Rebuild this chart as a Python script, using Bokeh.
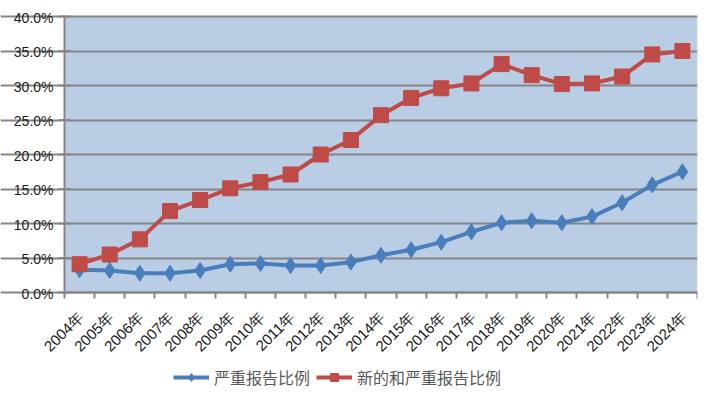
import math
from bokeh.plotting import figure
from bokeh.models import (Range1d, FixedTicker, Legend, LegendItem, BoxAnnotation)
from bokeh.core.properties import value
from bokeh.embed import file_html
from bokeh.resources import INLINE

years = ["2004年", "2005年", "2006年", "2007年", "2008年", "2009年", "2010年", "2011年",
         "2012年", "2013年", "2014年", "2015年", "2016年", "2017年", "2018年", "2019年",
         "2020年", "2021年", "2022年", "2023年", "2024年"]
severe = [3.3, 3.2, 2.8, 2.8, 3.2, 4.1, 4.2, 3.9, 3.9, 4.4, 5.4, 6.2, 7.3, 8.8,
          10.1, 10.4, 10.1, 11.0, 13.0, 15.6, 17.5]
new_and_severe = [4.1, 5.5, 7.7, 11.8, 13.4, 15.1, 16.0, 17.1, 20.0, 22.1, 25.7, 28.2,
                  29.6, 30.3, 33.1, 31.5, 30.2, 30.3, 31.3, 34.5, 35.0]
y_ticks = [0, 5, 10, 15, 20, 25, 30, 35, 40]
y_tick_labels = ["0.0%", "5.0%", "10.0%", "15.0%", "20.0%", "25.0%", "30.0%", "35.0%", "40.0%"]
names = ["严重报告比例", "新的和严重报告比例"]

n = len(years)
xs = [i + 0.5 for i in range(n)]
s1 = [v / 100 for v in severe]
s2 = [v / 100 for v in new_and_severe]
yt = [t / 100 for t in y_ticks]
y_max = yt[-1]

BLUE = "#4A7EBB"
RED = "#BE4B48"
GRID = "#868686"
PLOT_BG = "#B9CDE5"
TXT = "#1a1a1a"

# layout (pixels): frame covers the canvas (minus a right margin); plot area starts
# 64px in and 16px down, value axis is 276px tall with 105px of room below it
FRAME_W, FRAME_H = 697, 397
AREA_LEFT, AREA_TOP, AREA_H = 64, 16, 276
x_min = -n * AREA_LEFT / (FRAME_W - AREA_LEFT)
y_min = -y_max * (FRAME_H - AREA_H - AREA_TOP) / AREA_H
y_top = y_max + y_max * AREA_TOP / AREA_H

p = figure(frame_width=FRAME_W, frame_height=FRAME_H, output_backend="svg",
           toolbar_location=None, y_axis_location=None,
           x_range=Range1d(x_min, n), y_range=Range1d(y_min, y_top))
p.min_border = 0
p.min_border_left = 0
p.min_border_right = 14
p.min_border_top = 0
p.min_border_bottom = 0
p.background_fill_color = "white"
p.border_fill_color = "white"
p.outline_line_color = None

# plot area background
p.add_layout(BoxAnnotation(left=0, right=n, bottom=0, top=y_max, fill_color=PLOT_BG,
                           fill_alpha=1, line_color=None, level="image"))

# horizontal gridlines
p.ygrid.grid_line_color = GRID
p.ygrid.grid_line_width = 2
p.ygrid.ticker = FixedTicker(ticks=yt)
p.ygrid.bounds = (0, n)
p.xgrid.visible = False

# value axis line, tick marks and labels
p.segment(x0=[0], y0=[yt[0]], x1=[0], y1=[yt[-1]], line_color=GRID, line_width=2)
p.scatter(x=[0] * len(yt), y=yt, marker="dash", size=12, line_color=GRID, line_width=2)
p.text(x=[0] * len(yt), y=yt, text=y_tick_labels, text_align="right",
       text_baseline="middle", x_offset=-11, y_offset=1,
       text_font=value("Liberation Sans"), text_font_size="14px", text_color=TXT)

# category axis drawn at value 0, tick marks between categories
p.xaxis.fixed_location = 0
p.xaxis.bounds = (0, n)
p.xaxis.ticker = FixedTicker(ticks=[], minor_ticks=list(range(n + 1)))
p.xaxis.axis_line_color = GRID
p.xaxis.axis_line_width = 2
p.xaxis.major_tick_line_color = None
p.xaxis.minor_tick_line_color = GRID
p.xaxis.minor_tick_line_width = 2
p.xaxis.minor_tick_out = 6
p.xaxis.minor_tick_in = 0
p.xaxis.major_label_standoff = 0

# category labels, rotated 45 degrees
p.text(x=xs, y=[0] * n, text=years, angle=math.pi / 4,
       text_align="right", text_baseline="middle", x_offset=1, y_offset=22,
       text_font=value("Liberation Sans"), text_font_size="15px", text_color=TXT)

l1 = p.line(xs, s1, line_color=BLUE, line_width=4, line_join="round")
m1 = p.scatter(xs, s1, marker="diamond", size=16, fill_color=BLUE, line_color=BLUE)
l2 = p.line(xs, s2, line_color=RED, line_width=4, line_join="round")
m2 = p.scatter(xs, s2, marker="square", size=15, fill_color=RED, line_color=RED)

legend = Legend(items=[LegendItem(label=names[0], renderers=[l1, m1]),
                       LegendItem(label=names[1], renderers=[l2, m2])],
                orientation="horizontal", location=(173, 8))
legend.border_line_color = None
legend.background_fill_alpha = 0
legend.glyph_width = 36
legend.label_text_font = "Noto Sans CJK SC"
legend.label_text_font_size = "16px"
legend.label_text_color = "#595959"
legend.spacing = 6
legend.padding = 2
legend.margin = 0
p.add_layout(legend, "center")

open("out.html", "w").write(file_html(p, INLINE))
